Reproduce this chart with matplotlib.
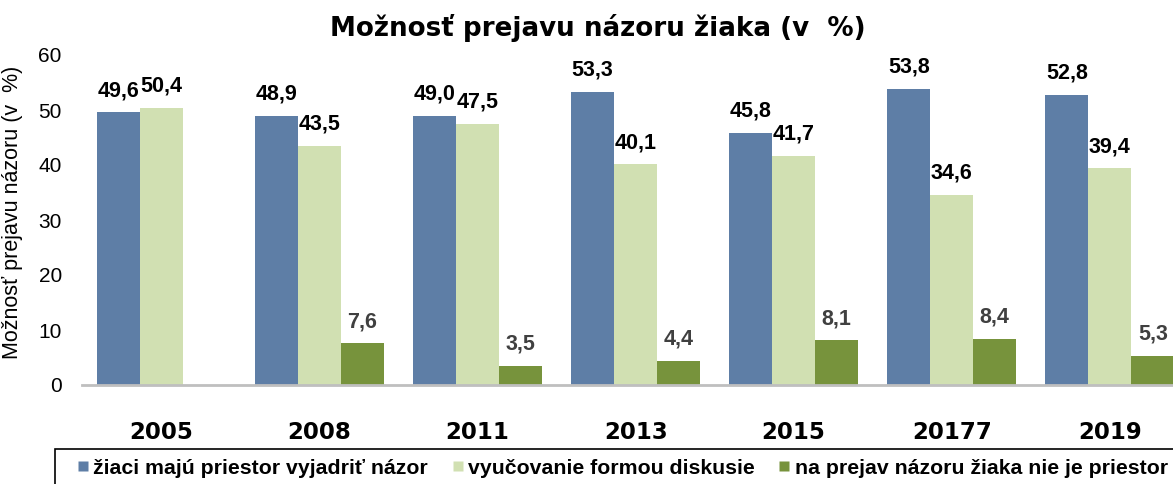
import numpy as np
import matplotlib.pyplot as plt
from matplotlib.lines import Line2D
from matplotlib.patches import Rectangle

# Data
YEARS = ['2005', '2008', '2011', '2013', '2015', '20177', '2019']
SERIES = [
    'žiaci majú priestor vyjadriť názor',
    'vyučovanie formou diskusie',
    'na prejav názoru žiaka nie je priestor',
]
ZIACI_NAZOR = [49.6, 48.9, 49.0, 53.3, 45.8, 53.8, 52.8]
DISKUSIA = [50.4, 43.5, 47.5, 40.1, 41.7, 34.6, 39.4]
NIE_PRIESTOR = [np.nan, 7.6, 3.5, 4.4, 8.1, 8.4, 5.3]

COLORS = ['#5E7EA6', '#D1E0B2', '#77933C']
LABEL_COLORS = ['black', 'black', '#404040']

plt.rcParams['font.family'] = ['Liberation Sans', 'DejaVu Sans']

W, H = 1173, 484
fig = plt.figure(figsize=(W / 100, H / 100), dpi=100)
ax = fig.add_axes([82 / W, 99 / H, (W - 82) / W, 330 / H])

x = np.arange(len(YEARS))
width = 0.272
offsets = [-width, 0, width]
all_vals = [ZIACI_NAZOR, DISKUSIA, NIE_PRIESTOR]

for vals, off, col, lcol in zip(all_vals, offsets, COLORS, LABEL_COLORS):
    vals = np.array(vals, dtype=float)
    ax.bar(x + off, np.nan_to_num(vals), width, color=col, edgecolor='none')
    for xi, v in zip(x, vals):
        if np.isnan(v):
            continue
        ax.annotate(f'{v:.1f}'.replace('.', ','), (xi + off, v),
                    xytext=(0, 8), textcoords='offset points',
                    ha='center', va='bottom', fontsize=15.5,
                    fontweight='bold', color=lcol)

ax.set_xlim(-0.503, 6.40)
ax.set_ylim(0, 60)
ax.set_yticks(np.arange(0, 61, 10))
ax.set_xticks(x)
ax.set_xticklabels(YEARS, fontsize=16.5, fontweight='heavy',
                   family='DejaVu Sans')
ax.tick_params(axis='x', length=0, pad=26)
ax.tick_params(axis='y', length=0, pad=14.5, labelsize=15)

for side in ['top', 'right', 'left']:
    ax.spines[side].set_visible(False)
ax.spines['bottom'].set_color('#BFBFBF')
ax.spines['bottom'].set_linewidth(2)

ax.set_ylabel('Možnosť prejavu názoru (v  %)', fontsize=15.5)
ax.yaxis.set_label_coords(-0.054, 0.524)

fig.text(598 / W, 1 - 28 / H, 'Možnosť prejavu názoru žiaka (v  %)',
         ha='center', va='center', fontsize=18.8, fontweight='heavy',
         family='DejaVu Sans')

# legend frame (runs off the right and bottom edges like the reference)
fig.patches.append(Rectangle((55 / W, -0.05), 1.2, 1 - 449 / H + 0.05,
                             transform=fig.transFigure, fill=False,
                             edgecolor='black', linewidth=1.2))

handles = [Line2D([], [], marker='s', linestyle='none', markersize=7.5,
                  markerfacecolor=c, markeredgecolor='none') for c in COLORS]
leg = fig.legend(handles, SERIES, loc='center left',
                 bbox_to_anchor=(76.7 / W, 1 - 468 / H), ncol=3,
                 frameon=False, borderaxespad=0, borderpad=0,
                 handlelength=0.6, handletextpad=0.18, columnspacing=1.1,
                 prop={'size': 15.3, 'weight': 'bold'})

fig.savefig('out.png', dpi=100)
